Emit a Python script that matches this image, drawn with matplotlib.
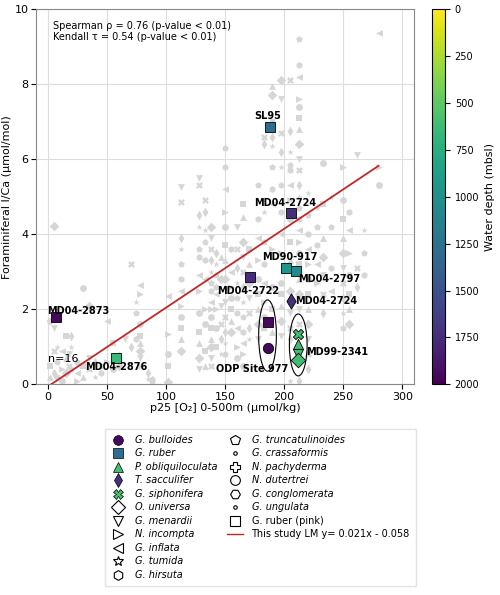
import matplotlib
matplotlib.use('Agg')
import matplotlib.pyplot as plt
from matplotlib.lines import Line2D
from matplotlib.patches import Ellipse
from matplotlib.colors import Normalize
from matplotlib.cm import ScalarMappable

# compilation (grey) data, by O2 column
grey_cols = {
    2: [1.7, 0.5, 0.2], 5: [4.23, 1.5, 0.9, 0.3], 8: [1.0, 0.6, 0.2], 12: [0.9, 0.4, 0.1],
    15: [1.3, 0.7, 0.3], 18: [0.8, 0.5], 20: [1.3, 1.0, 0.4], 25: [0.6, 0.3, 0.1],
    30: [2.58, 0.5, 0.2], 35: [2.1, 0.7, 0.4], 40: [0.6, 0.2], 45: [0.5, 0.3],
    50: [1.7, 0.6], 55: [0.4, 1.1], 60: [0.8, 0.5], 65: [1.2], 70: [3.2, 1.0],
    75: [2.2, 1.9, 1.2], 78: [2.65, 2.4, 1.6, 1.3, 1.1, 0.9, 0.7, 0.5], 85: [0.3, 0.15],
    88: [0.15, 0.1], 102: [2.35, 1.35, 0.8, 0.5, 0.1, 0.05],
    113: [5.25, 4.85, 3.9, 3.6, 3.2, 2.8, 2.5, 2.1, 1.8, 1.5, 1.2, 0.9],
    128: [5.5, 5.3, 4.5, 4.2, 3.6, 3.4, 2.9, 2.5, 1.9, 1.4, 1.1, 0.7, 0.4],
    133: [4.9, 4.6, 4.1, 3.8, 3.3, 2.8, 2.0, 1.6, 0.9, 0.5],
    138: [4.2, 3.9, 3.6, 3.3, 3.0, 2.7, 2.5, 2.2, 2.0, 1.8, 1.5, 1.2, 1.0, 0.7, 0.5],
    142: [3.5, 3.2, 2.9, 2.6, 2.4, 2.0, 1.5, 1.0],
    147: [3.4, 2.8, 2.1, 1.6, 1.2, 0.8],
    150: [6.3, 5.8, 5.2, 4.6, 4.2, 3.7, 3.3, 2.8, 2.2, 1.8, 1.4, 1.1, 0.8],
    155: [3.6, 3.0, 2.6, 2.3, 2.0, 1.7, 1.4],
    160: [4.2, 3.6, 3.1, 2.7, 2.3, 1.9, 1.5, 1.0, 0.7],
    165: [4.8, 4.45, 3.8, 3.4, 3.0, 2.6, 2.2, 1.8, 1.4, 1.1, 0.8, 0.5],
    170: [3.6, 3.2, 2.7, 2.3, 1.9, 1.5, 1.2],
    178: [5.3, 4.4, 3.9, 3.3, 2.8, 2.4, 2.0, 1.6, 1.2],
    183: [6.6, 6.4, 4.6, 3.8, 3.2, 2.7, 2.2, 1.8, 1.5],
    190: [7.95, 7.7, 7.0, 6.9, 6.6, 6.35, 5.8, 5.2, 4.8, 3.6, 2.6, 2.0, 1.4],
    197: [8.1, 7.6, 6.7, 6.2, 5.8, 5.3, 4.6, 4.0, 3.5, 2.7, 2.4, 2.1, 1.7, 1.3],
    205: [8.1, 6.75, 6.2, 5.85, 5.7, 5.3, 4.9, 4.4, 3.8, 3.3, 2.5, 1.9, 1.5, 1.2, 0.1],
    213: [9.2, 8.5, 8.2, 7.6, 7.4, 7.1, 6.8, 6.4, 6.0, 5.7, 5.3, 5.0, 4.7, 4.4, 4.1, 3.8,
          3.5, 3.2, 2.8, 2.4, 2.0, 1.6, 0.1],
    220: [5.1, 4.5, 4.0, 3.6, 3.2, 2.8, 2.4, 2.0, 1.6, 1.2, 0.8, 0.4],
    228: [4.7, 4.2, 3.7, 3.2, 2.7], 233: [5.9, 4.8, 3.9, 3.4, 2.9, 2.4, 1.9],
    240: [5.0, 4.2, 3.1, 2.5],
    250: [5.8, 4.9, 4.4, 3.9, 3.5, 3.1, 2.7, 2.3, 1.9, 1.5],
    255: [4.6, 4.1, 3.5, 2.9, 2.4, 2.0, 1.6], 262: [6.1, 3.1, 2.6],
    268: [4.1, 3.5, 2.9], 280: [9.35, 5.8, 5.3],
}

# this study (coloured) data
site_names = ['MD04-2873', 'MD04-2876', 'SL95', 'MD04-2724', 'MD90-917', 'MD04-2797',
              'MD04-2722', 'MD04-2724', 'ODP Site 977', 'ODP Site 977',
              'MD99-2341', 'MD99-2341', 'MD99-2341', 'MD99-2341']
site_o2 = [7, 58, 188, 206, 202, 210, 171, 206, 186, 186, 212, 212, 212, 212]
site_ica = [1.8, 0.7, 6.85, 4.57, 3.1, 3.02, 2.85, 2.22, 1.65, 0.97, 1.35, 1.07, 0.8, 0.65]
site_depth = [1950, 650, 1300, 1720, 950, 1050, 1750, 1720, 1950, 1950, 620, 620, 620, 620]
site_marker = ['s', 's', 's', 's', 's', 's', 's', 'd', 's', 'o', 'X', '^', 'v', 'D']

species = ['G. bulloides', 'G. ruber', 'P. obliquiloculata', 'T. sacculifer', 'G. siphonifera',
           'O. universa', 'G. menardii', 'N. incompta', 'G. inflata', 'G. tumida', 'G. hirsuta',
           'G. truncatulinoides', 'G. crassaformis', 'N. pachyderma', 'N. dutertrei',
           'G. conglomerata', 'G. ungulata', 'G. ruber (pink)']
species_marker = ['o', 's', '^', 'd', 'X', 'D', 'v', '>', '<', '*', 'h',
                  'p', '.', 'P', 'o', 'H', '.', 's']
species_depth = [1950, 1300, 600, 1720, 600] + [None] * 13

slope, intercept = 0.021, -0.058

fig = plt.figure(figsize=(5, 5.95), dpi=100)
ax = fig.add_axes([0.072, 0.354, 0.756, 0.631])
cax = fig.add_axes([0.864, 0.354, 0.026, 0.631])

grey_markers = ['o', 's', '^', 'D', 'v', 'X', 'd', '*', 'p', 'h', '<', '>']
k = 0
for x, ys in grey_cols.items():
    for y in ys:
        ax.scatter(x, y, marker=grey_markers[k % len(grey_markers)], s=24,
                   color='#d6d6d6', zorder=2, linewidths=0)
        k += 1

xs = [0, 280]
ax.plot(xs, [slope * v + intercept for v in xs], color='#c0282b', lw=1.3, zorder=3)

cmap = plt.get_cmap('viridis_r')
norm = Normalize(0, 2000)
for x, y, d, m in zip(site_o2, site_ica, site_depth, site_marker):
    ax.scatter(x, y, marker=m, s=55 if m != 'd' else 60, color=cmap(norm(d)),
               edgecolor='black', linewidths=0.6, zorder=5)

labels = [('MD04-2873', -1, 1.95, 'left'), ('MD04-2876', 58, 0.45, 'center'),
          ('SL95', 186, 7.15, 'center'), ('MD04-2724', 201, 4.82, 'center'),
          ('MD90-917', 205, 3.38, 'center'), ('MD04-2797', 212, 2.8, 'left'),
          ('MD04-2722', 170, 2.5, 'center'), ('MD04-2724', 209, 2.22, 'left'),
          ('ODP Site 977', 173, 0.4, 'center'), ('MD99-2341', 219, 0.85, 'left')]
for t, x, y, ha in labels:
    ax.text(x, y, t, fontsize=7, fontweight='bold', ha=ha, va='center', zorder=6)

ax.add_patch(Ellipse((186, 1.3), 15, 1.9, fill=False, lw=0.8, zorder=4))
ax.add_patch(Ellipse((212, 1.05), 15, 1.65, fill=False, lw=0.8, zorder=4))

ax.text(4, 9.68, 'Spearman ρ = 0.76 (p-value < 0.01)\nKendall τ = 0.54 (p-value < 0.01)',
        fontsize=7, va='top', linespacing=1.1)
ax.text(0, 0.6, 'n=16', fontsize=8)

ax.set_xlim(-10, 310)
ax.set_ylim(0, 10)
ax.set_yticks([0, 2, 4, 6, 8, 10])
ax.grid(True, color='#dddddd', lw=0.8, zorder=0)
ax.set_axisbelow(True)
ax.tick_params(labelsize=8, pad=2)
ax.set_xlabel('p25 [O₂] 0-500m (µmol/kg)', fontsize=8, labelpad=1)
ax.set_ylabel('Foraminiferal I/Ca (µmol/mol)', fontsize=8, labelpad=2)
for s in ax.spines.values():
    s.set_color('#888888')

cb = fig.colorbar(ScalarMappable(norm=norm, cmap=cmap), cax=cax)
cb.set_ticks(range(0, 2001, 250))
cax.invert_yaxis()
cax.tick_params(labelsize=7)
cb.set_label('Water depth (mbsl)', fontsize=8)

handles = []
for name, m, d in zip(species, species_marker, species_depth):
    if d is None:
        h = Line2D([], [], marker=m, ls='', markerfacecolor='white', markeredgecolor='black',
                   markersize=7 if m != '.' else 5, markeredgewidth=0.8, label=name)
    else:
        h = Line2D([], [], marker=m, ls='', markerfacecolor=cmap(norm(d)), markeredgecolor='black',
                   markersize=7, markeredgewidth=0.5, label=name)
    handles.append(h)
handles.append(Line2D([], [], color='#c0282b', lw=1, label='This study LM y= 0.021x - 0.058'))
# blank entries so that the first column holds 11 rows
for _ in range(3):
    handles.append(Line2D([], [], ls='', label=' '))

leg = fig.legend(handles=handles, ncol=2, loc='upper left', bbox_to_anchor=(0.2, 0.287),
                 fontsize=7, frameon=True, labelspacing=0.36, handletextpad=0.9,
                 columnspacing=1.0, borderpad=0.6, fancybox=False, handlelength=1.6)
leg.get_frame().set_edgecolor('#dddddd')
for t in leg.get_texts()[:18]:
    t.set_fontstyle('italic')
leg.get_texts()[17].set_text('G. ruber (pink)')
leg.get_texts()[17].set_fontstyle('normal')

fig.savefig('out.png', dpi=100)
